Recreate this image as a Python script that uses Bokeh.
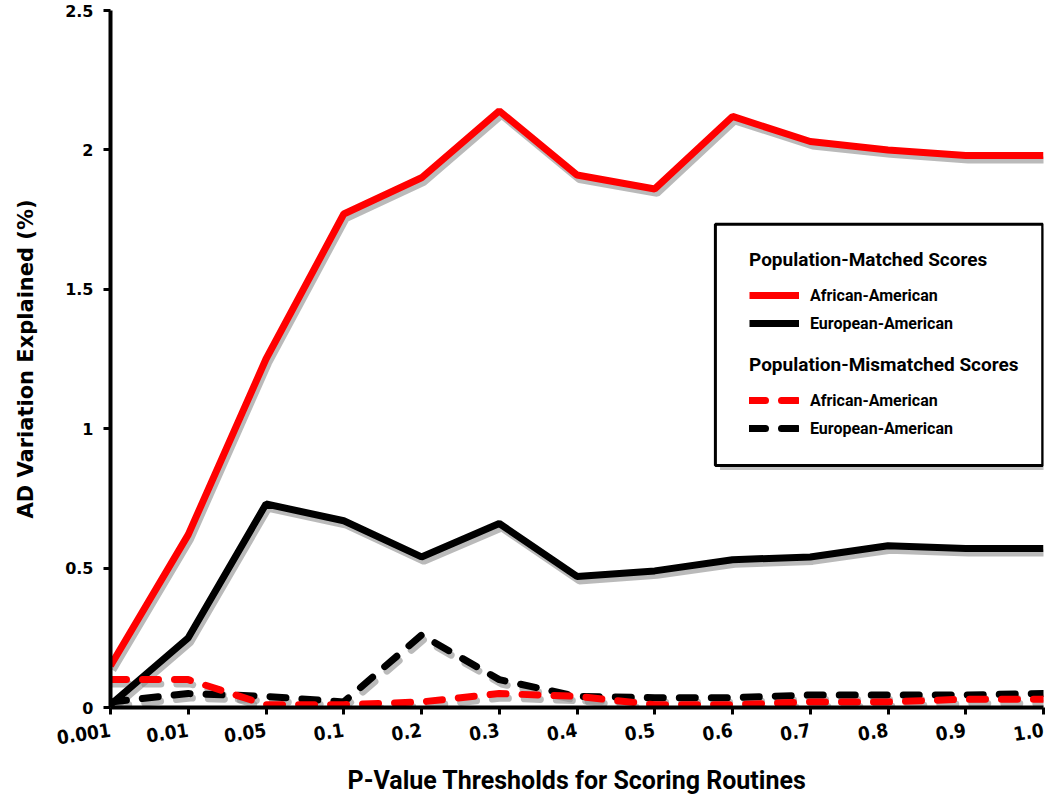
from bokeh.plotting import figure
from bokeh.models import Legend, LegendItem, BoxAnnotation, ColumnDataSource, FixedTicker
from bokeh.transform import dodge
from bokeh.embed import file_html
from bokeh.resources import INLINE

thresholds = ["0.001", "0.01", "0.05", "0.1", "0.2", "0.3", "0.4",
              "0.5", "0.6", "0.7", "0.8", "0.9", "1.0"]
aa_matched = [0.15, 0.62, 1.25, 1.77, 1.90, 2.14, 1.91, 1.86, 2.12, 2.03, 2.00, 1.98, 1.98]
ea_matched = [0.01, 0.25, 0.73, 0.67, 0.54, 0.66, 0.47, 0.49, 0.53, 0.54, 0.58, 0.57, 0.57]
aa_mismatched = [0.10, 0.10, 0.01, 0.01, 0.02, 0.05, 0.04, 0.01, 0.01, 0.02, 0.02, 0.03, 0.03]
ea_mismatched = [0.02, 0.05, 0.04, 0.02, 0.26, 0.10, 0.04, 0.035, 0.035, 0.045, 0.045, 0.045, 0.05]
y_ticks = [0, 0.5, 1, 1.5, 2, 2.5]
y_tick_labels = ["0", "0.5", "1", "1.5", "2", "2.5"]

series_names = ["African-American", "European-American"]
group_titles = ["Population-Matched Scores", "Population-Mismatched Scores"]
x_title = "P-Value Thresholds for Scoring Routines"
y_title = "AD Variation Explained (%)"

pos = list(range(len(thresholds)))
src = ColumnDataSource(dict(x=pos, aa_m=aa_matched, ea_m=ea_matched,
                            aa_mm=aa_mismatched, ea_mm=ea_mismatched))

NARROW = "Roboto"

p = figure(width=1048, height=803, x_range=(0, len(pos) - 1), y_range=(0, 2.5),
           output_backend="svg", toolbar_location=None,
           min_border_left=110, min_border_right=5, min_border_top=10, min_border_bottom=96)
p.outline_line_color = None
p.xgrid.visible = False
p.ygrid.visible = False

# axes
p.xaxis.ticker = FixedTicker(ticks=pos)
p.xaxis.major_label_overrides = {i: t for i, t in zip(pos, thresholds)}
p.yaxis.ticker = FixedTicker(ticks=y_ticks)
p.yaxis.major_label_overrides = {v: t for v, t in zip(y_ticks, y_tick_labels)}
for ax in (p.xaxis, p.yaxis):
    ax.axis_line_width = 4
    ax.axis_line_color = "black"
    ax.major_tick_line_width = 3
    ax.major_tick_in = 0
    ax.major_tick_out = 7
    ax.minor_tick_line_color = None
    ax.major_label_text_font_style = "bold"
    ax.major_label_text_color = "black"
    ax.axis_label_text_font_style = "bold"
    ax.axis_label_text_color = "black"
p.xaxis.major_label_orientation = 0.15
p.xaxis.major_label_text_font = "DejaVu Sans Condensed"
p.xaxis.major_label_text_font_size = "19px"
p.xaxis.major_label_standoff = 15
p.yaxis.major_label_text_font = "DejaVu Sans"
p.yaxis.major_label_text_font_size = "16px"
p.yaxis.major_label_standoff = 10
p.xaxis.axis_label = x_title
p.xaxis.axis_label_text_font = NARROW
p.xaxis.axis_label_text_font_size = "25px"
p.xaxis.axis_label_standoff = 12
p.yaxis.axis_label = y_title
p.yaxis.axis_label_text_font = "DejaVu Sans"
p.yaxis.axis_label_text_font_size = "21px"
p.yaxis.axis_label_standoff = 24

# shadows
cols = [("ea_m", None), ("aa_m", None), ("ea_mm", "16 16"), ("aa_mm", "16 16")]
for c, dash in cols:
    kw = dict(line_dash=dash) if dash else {}
    p.line(x=dodge("x", 0.03), y=dodge(c, -0.016), source=src, line_color="#8c8c8c",
           line_alpha=0.6, line_width=7, line_cap="round" if dash else "butt", **kw)

r_ea = p.line("x", "ea_m", source=src, line_color="black", line_width=7)
r_aa = p.line("x", "aa_m", source=src, line_color="red", line_width=7)
r_ea_mm = p.line("x", "ea_mm", source=src, line_color="black", line_width=7,
                 line_dash="16 16", line_cap="round")
r_aa_mm = p.line("x", "aa_mm", source=src, line_color="red", line_width=7,
                 line_dash="16 16", line_cap="round")

# legend frame
shadow_box = BoxAnnotation(left=7.84, right=12.05, top=1.718, bottom=0.852,
                           fill_color="#999999", fill_alpha=0.6, line_alpha=0)
box = BoxAnnotation(left=7.78, right=11.99, top=1.733, bottom=0.868,
                    fill_color="white", fill_alpha=1, line_color="black",
                    line_alpha=1, line_width=3)
p.add_layout(shadow_box)
p.add_layout(box)


def make_legend(title, items, loc):
    return Legend(items=items, title=title, location=loc,
                  title_text_font=NARROW, title_text_font_size="19px",
                  title_text_font_style="bold", title_standoff=14,
                  label_text_font=NARROW, label_text_font_size="16px",
                  label_text_font_style="bold", label_text_color="black",
                  title_text_color="black",
                  glyph_width=50, glyph_height=20, label_height=20,
                  label_standoff=11, spacing=8, padding=0, margin=0,
                  border_line_alpha=0, background_fill_alpha=0)


leg1 = make_legend(group_titles[0],
                   [LegendItem(label=series_names[0], renderers=[r_aa]),
                    LegendItem(label=series_names[1], renderers=[r_ea])], (639, 374))
leg2 = make_legend(group_titles[1],
                   [LegendItem(label=series_names[0], renderers=[r_aa_mm]),
                    LegendItem(label=series_names[1], renderers=[r_ea_mm])], (639, 269))
p.add_layout(leg1, "center")
p.add_layout(leg2, "center")

open("out.html", "w").write(file_html(p, INLINE))
